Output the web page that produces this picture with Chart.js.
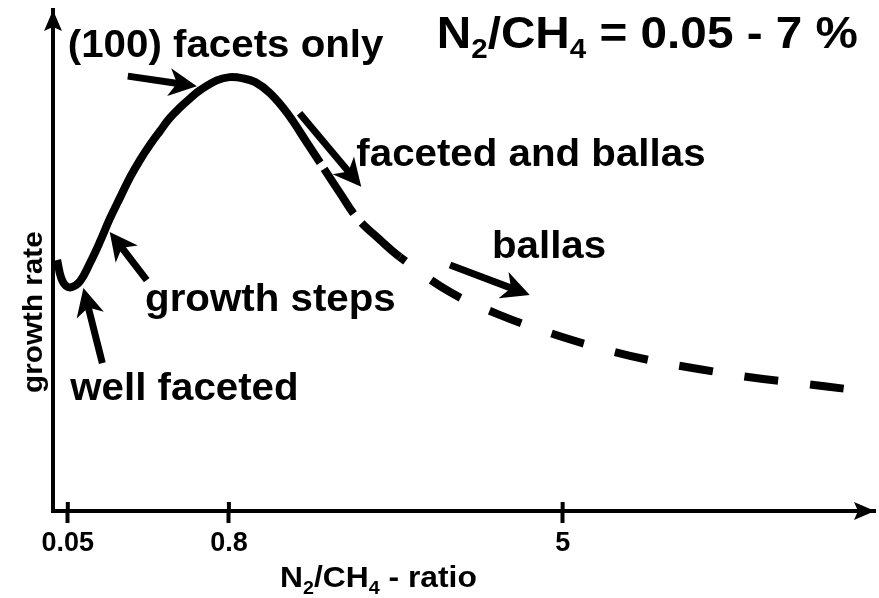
<!DOCTYPE html>
<html>
<head>
<meta charset="utf-8">
<script src="https://cdn.jsdelivr.net/npm/chart.js@4/dist/chart.umd.min.js"></script>
<style>
  html, body { margin: 0; padding: 0; background: #fff; }
  #wrap { width: 879px; height: 598px; }
</style>
</head>
<body>
<div id="wrap"><canvas id="growthChart" width="879" height="598"></canvas></div>
<script>
// position along the N2/CH4 axis (schematic units, 0-100) and growth rate (arb. units)
var ratioPos = [0.5, 1.0, 1.6, 2.3, 3.3, 4.5, 5.7, 6.9, 8.2, 9.4, 10.6, 11.8, 13.0, 14.2, 15.5, 16.7, 17.9,
  20.0, 21.5, 23.0, 24.6, 26.4, 28.5, 30.9, 32.5, 34.9, 37.0, 39.8, 42.2, 48.3, 54.4, 60.5, 66.6, 72.6,
  78.7, 84.8, 90.9, 97.3];
var growthRate = [50.1, 46.5, 44.9, 44.7, 45.9, 49.5, 53.7, 58.3, 62.7, 66.7, 70.1, 73.1, 75.8, 78.4, 80.6, 82.4, 84.0,
  86.0, 86.6, 86.4, 85.6, 83.4, 79.4, 73.5, 69.5, 63.5, 58.5, 54.1, 50.7, 43.7, 39.1, 35.5, 32.5, 30.1,
  28.3, 26.7, 25.5, 24.2];

var tickPos = [1.8, 21.4, 62.0];
var tickLabels = ['0.05', '0.8', '5'];

// curve is solid up to here, then long dashes, then shorter dashes
var solidUntil = 32.4;
var longDashUntil = 42.2;

// region labels: text anchor (left, baseline) and arrow tail -> tip, all in data units
var noteText = ['(100) facets only', 'faceted and ballas', 'ballas', 'growth steps', 'well faceted'];
var noteAt = [[1.8, 90.6], [36.9, 68.9], [53.4, 50.5], [11.2, 39.9], [2.1, 22.2]];
var arrowFrom = [[9.1, 86.8], [30.0, 79.4], [48.3, 49.1], [11.4, 46.1], [6.0, 29.5]];
var arrowTo = [[17.5, 84.8], [37.5, 64.7], [58.0, 43.1], [6.9, 55.7], [3.7, 44.5]];

var FONT = '"Liberation Sans", Arial, Helvetica, sans-serif';
var STRETCH = 1.06;

function drawRuns(ctx, runs, x, y, size, align) {
  // runs: [text, isSubscript]
  var w = 0;
  runs.forEach(function (r) {
    ctx.font = 'bold ' + (r[1] ? size * 0.62 : size) + 'px ' + FONT;
    w += ctx.measureText(r[0]).width;
  });
  ctx.save();
  ctx.translate(x, y);
  ctx.scale(STRETCH, 1);
  ctx.textBaseline = 'alphabetic';
  ctx.textAlign = 'left';
  var cx = align === 'right' ? -w : (align === 'center' ? -w / 2 : 0);
  runs.forEach(function (r) {
    ctx.font = 'bold ' + (r[1] ? size * 0.62 : size) + 'px ' + FONT;
    ctx.fillText(r[0], cx, r[1] ? size * 0.22 : 0);
    cx += ctx.measureText(r[0]).width;
  });
  ctx.restore();
}

function drawArrow(ctx, x1, y1, x2, y2, shaft, head, half, notch) {
  var ang = Math.atan2(y2 - y1, x2 - x1);
  var len = Math.hypot(x2 - x1, y2 - y1);
  ctx.save();
  ctx.translate(x2, y2);
  ctx.rotate(ang);
  if (len > 0 && shaft > 0) {
    ctx.lineWidth = shaft;
    ctx.lineCap = 'butt';
    ctx.beginPath();
    ctx.moveTo(-len, 0);
    ctx.lineTo(-head + notch + 1, 0);
    ctx.stroke();
  }
  ctx.beginPath();
  ctx.moveTo(0, 0);
  ctx.lineTo(-head, -half);
  ctx.lineTo(-head + notch, 0);
  ctx.lineTo(-head, half);
  ctx.closePath();
  ctx.fill();
  ctx.restore();
}

var decorations = {
  id: 'decorations',
  afterDraw: function (chart) {
    var ctx = chart.ctx;
    var area = chart.chartArea;
    var xs = chart.scales.x, ys = chart.scales.y;
    ctx.save();
    ctx.fillStyle = '#000';
    ctx.strokeStyle = '#000';

    // axis arrowheads
    drawArrow(ctx, area.left, area.top + 20, area.left, area.top, 0, 21, 9, 4);
    drawArrow(ctx, area.right - 20, area.bottom, area.right, area.bottom, 0, 21, 9, 4);

    // tick marks cross the axis slightly
    ctx.lineWidth = 4;
    tickPos.forEach(function (v) {
      var px = xs.getPixelForValue(v);
      ctx.beginPath();
      ctx.moveTo(px, area.bottom - 9);
      ctx.lineTo(px, area.bottom);
      ctx.stroke();
    });

    // region labels and their arrows
    noteText.forEach(function (t, i) {
      drawRuns(ctx, [[t, false]], xs.getPixelForValue(noteAt[i][0]), ys.getPixelForValue(noteAt[i][1]), 38, 'left');
      drawArrow(ctx,
        xs.getPixelForValue(arrowFrom[i][0]), ys.getPixelForValue(arrowFrom[i][1]),
        xs.getPixelForValue(arrowTo[i][0]), ys.getPixelForValue(arrowTo[i][1]),
        7, 28, 14, 8);
    });

    // heading
    drawRuns(ctx, [['N', false], ['2', true], ['/CH', false], ['4', true], [' = 0.05 - 7 %', false]],
      area.right - 17, 48, 45, 'right');

    // x axis title
    drawRuns(ctx, [['N', false], ['2', true], ['/CH', false], ['4', true], [' - ratio', false]],
      280, 587, 30, 'left');

    // y axis title, reading upwards
    ctx.save();
    ctx.translate(42, ys.getPixelForValue(39.7));
    ctx.rotate(-Math.PI / 2);
    drawRuns(ctx, [['growth rate', false]], 0, 0, 28, 'center');
    ctx.restore();

    ctx.restore();
  }
};

var points = ratioPos.map(function (x, i) { return { x: x, y: growthRate[i] }; });

new Chart(document.getElementById('growthChart'), {
  type: 'line',
  data: {
    datasets: [{
      data: points,
      borderColor: '#000',
      borderWidth: 8,
      borderCapStyle: 'butt',
      borderJoinStyle: 'round',
      pointRadius: 0,
      fill: false,
      tension: 0.4,
      segment: {
        borderDash: function (c) {
          var x = c.p0.parsed.x;
          if (x < solidUntil) return [];
          if (x < longDashUntil) return [54, 12];
          return [34, 32];
        },
        borderDashOffset: function (c) {
          var x = c.p0.parsed.x;
          if (x < solidUntil) return 0;
          if (x < longDashUntil) return 59;
          return 27;
        }
      }
    }]
  },
  options: {
    responsive: false,
    animation: false,
    events: [],
    layout: { padding: { top: 10, right: 4, left: 0, bottom: 0 } },
    plugins: {
      legend: { display: false },
      tooltip: { enabled: false }
    },
    scales: {
      x: {
        type: 'linear',
        min: 0,
        max: 100,
        afterBuildTicks: function (s) {
          s.ticks = tickPos.map(function (v) { return { value: v }; });
        },
        afterFit: function (s) { s.height = 87; },
        ticks: {
          autoSkip: false,
          maxRotation: 0,
          padding: 4,
          color: '#000',
          font: { family: FONT, size: 27, weight: 'bold' },
          callback: function (v, i) { return tickLabels[i]; }
        },
        grid: { drawOnChartArea: false, drawTicks: true, tickLength: 12, tickWidth: 4, tickColor: '#000' },
        border: { display: true, color: '#000', width: 4 }
      },
      y: {
        type: 'linear',
        min: 0,
        max: 100,
        afterFit: function (s) { s.width = 53; },
        ticks: { display: false },
        grid: { drawOnChartArea: false, drawTicks: false },
        border: { display: true, color: '#000', width: 4 }
      }
    }
  },
  plugins: [decorations]
});
</script>
</body>
</html>
